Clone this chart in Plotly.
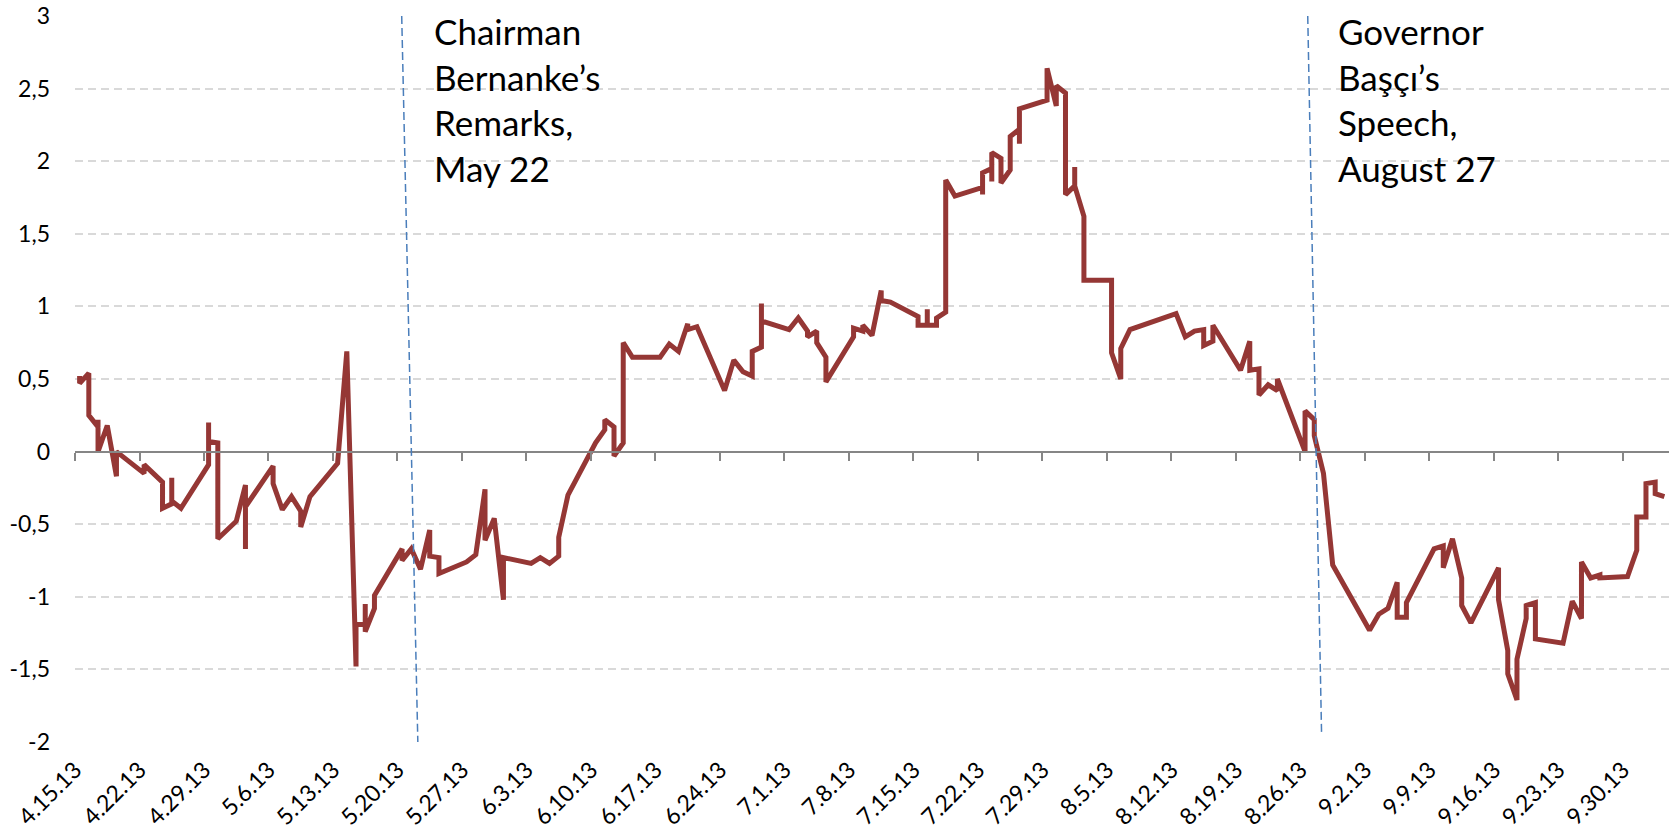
import plotly.graph_objects as go
import pandas as pd

# daily readings; several readings on one date draw as a vertical segment
dates = [
    "2013-04-15", "2013-04-16", "2013-04-17", "2013-04-18", "2013-04-19",
    "2013-04-22", "2013-04-23", "2013-04-24", "2013-04-25", "2013-04-26",
    "2013-04-29", "2013-04-30", "2013-05-01", "2013-05-02", "2013-05-03",
    "2013-05-06", "2013-05-07", "2013-05-08", "2013-05-09", "2013-05-10",
    "2013-05-13", "2013-05-14", "2013-05-15", "2013-05-16", "2013-05-17",
    "2013-05-20", "2013-05-21", "2013-05-22", "2013-05-23", "2013-05-24",
    "2013-05-27", "2013-05-28", "2013-05-29", "2013-05-30", "2013-05-31",
    "2013-06-03", "2013-06-04", "2013-06-05", "2013-06-06", "2013-06-07",
    "2013-06-10", "2013-06-11", "2013-06-12", "2013-06-13", "2013-06-14",
    "2013-06-17", "2013-06-18", "2013-06-19", "2013-06-20", "2013-06-21",
    "2013-06-24", "2013-06-25", "2013-06-26", "2013-06-27", "2013-06-28",
    "2013-07-01", "2013-07-02", "2013-07-03", "2013-07-04", "2013-07-05",
    "2013-07-08", "2013-07-09", "2013-07-10", "2013-07-11", "2013-07-12",
    "2013-07-15", "2013-07-16", "2013-07-17", "2013-07-18", "2013-07-19",
    "2013-07-22", "2013-07-23", "2013-07-24", "2013-07-25", "2013-07-26",
    "2013-07-29", "2013-07-30", "2013-07-31", "2013-08-01", "2013-08-02",
    "2013-08-05", "2013-08-06", "2013-08-07",
    "2013-08-12", "2013-08-13", "2013-08-14", "2013-08-15", "2013-08-16",
    "2013-08-19", "2013-08-20", "2013-08-21", "2013-08-22", "2013-08-23",
    "2013-08-26", "2013-08-27", "2013-08-28", "2013-08-29",
    "2013-09-02", "2013-09-03", "2013-09-04", "2013-09-05", "2013-09-06",
    "2013-09-09", "2013-09-10", "2013-09-11", "2013-09-12", "2013-09-13",
    "2013-09-16", "2013-09-17", "2013-09-18", "2013-09-19", "2013-09-20",
    "2013-09-23", "2013-09-24", "2013-09-25", "2013-09-26", "2013-09-27",
    "2013-09-30", "2013-10-01", "2013-10-02", "2013-10-03", "2013-10-04",
]
values = [
    [0.52, 0.47], [0.54, 0.25], [0.17, 0.22, 0.0], [0.18], [-0.17, 0.0],
    [-0.15, -0.09], [-0.15], [-0.21, -0.39], [-0.36, -0.18, -0.34], [-0.39],
    [-0.09, 0.20, 0.07], [0.06, -0.60], [-0.54], [-0.48], [-0.23, -0.67, -0.38],
    [-0.10, -0.22], [-0.40], [-0.31], [-0.41, -0.52], [-0.31],
    [-0.08], [0.69], [-1.48, -1.19], [-1.19, -1.05, -1.24], [-1.08, -0.99],
    [-0.67, -0.75], [-0.67], [-0.81], [-0.54, -0.72], [-0.73, -0.84],
    [-0.76], [-0.71], [-0.26, -0.61], [-0.46], [-1.02, -0.73],
    [-0.77], [-0.73], [-0.77], [-0.72, -0.59], [-0.30],
    [0.06], [0.15, 0.22], [0.17, -0.03], [0.06, 0.75], [0.65],
    [0.65], [0.74], [0.69], [0.88, 0.84], [0.86],
    [0.42], [0.63], [0.55], [0.52, 0.69], [0.72, 1.02, 0.90],
    [0.84], [0.92], [0.83, 0.79], [0.83, 0.75], [0.65, 0.48],
    [0.79, 0.85], [0.83, 0.87], [0.80], [1.11, 1.04], [1.03],
    [0.93, 0.87], [0.87, 0.98, 0.87], [0.87, 0.92], [0.96, 1.87], [1.76],
    [1.82, 1.77, 1.92], [1.95, 1.86, 2.06], [2.02, 1.85], [1.94, 2.17], [2.22, 2.12, 2.36],
    [2.42, 2.64], [2.38, 2.52], [2.47, 1.77], [1.83, 1.96, 1.83], [1.62, 1.18],
    [1.18, 0.68], [0.50, 0.71], [0.84],
    [0.95], [0.79], [0.83], [0.84, 0.73], [0.76, 0.87],
    [0.56], [0.76, 0.56], [0.57, 0.39], [0.46], [0.42, 0.50],
    [0.0, 0.28], [0.22, 0.11], [-0.15], [-0.78],
    [-1.23], [-1.12], [-1.08], [-0.90, -1.14], [-1.14, -1.04],
    [-0.67], [-0.65, -0.80], [-0.60], [-0.87, -1.06], [-1.18],
    [-0.80, -1.02], [-1.37, -1.53], [-1.71, -1.43], [-1.15, -1.06], [-1.04, -1.29],
    [-1.32], [-1.03], [-1.15, -0.76], [-0.87], [-0.85, -0.87],
    [-0.86], [-0.68, -0.45], [-0.45, -0.22], [-0.21, -0.29], [-0.31],
]

y_ticks = [-2, -1.5, -1, -0.5, 0, 0.5, 1, 1.5, 2, 2.5, 3]
y_tick_labels = ["-2", "-1,5", "-1", "-0,5", "0", "0,5", "1", "1,5", "2", "2,5", "3"]

event_labels = ["Chairman<br>Bernanke’s<br>Remarks,<br>May 22",
                "Governor<br>Başçı’s<br>Speech,<br>August 27"]
event_tops = ["2013-05-20 11:00", "2013-08-26 19:00"]
event_bottoms = ["2013-05-22 05:00", "2013-08-28 07:00"]
event_bottom_vals = [-2, -1.94]

x_range = ["2013-04-15", "2013-10-05"]

# flatten, placing each day's readings at midday
xs, ys = [], []
for d, vals in zip(dates, values):
    for v in vals:
        xs.append(pd.Timestamp(d) + pd.Timedelta(hours=12))
        ys.append(v)

FONT = "Lato"
WEEK = 7 * 24 * 3600 * 1000

fig = go.Figure()
fig.add_trace(go.Scatter(x=xs, y=ys, mode="lines",
                         line=dict(color="#953735", width=5),
                         hoverinfo="x+y", showlegend=False))
# dummy trace so the axis drawn at y=0 shows up
fig.add_trace(go.Scatter(x=[x_range[0]], y=[None], xaxis="x2",
                         showlegend=False, hoverinfo="skip"))

for top, bottom, bval, label in zip(event_tops, event_bottoms, event_bottom_vals, event_labels):
    fig.add_shape(type="line", xref="x", yref="y",
                  x0=top, y0=3, x1=bottom, y1=bval,
                  line=dict(color="#4A7EBB", width=1.5, dash="8px,4px"))
    fig.add_annotation(x=bottom, y=1, xref="x", yref="paper",
                       xanchor="left", yanchor="top", xshift=14, yshift=8,
                       text=label, showarrow=False, align="left",
                       font=dict(family=FONT, size=35, color="black"))

fig.update_layout(
    width=1669, height=835,
    margin=dict(l=75, r=0, t=16, b=93),
    plot_bgcolor="white", paper_bgcolor="white",
    font=dict(family=FONT, size=23, color="black"),
    xaxis=dict(type="date", range=x_range, tick0=x_range[0], dtick=WEEK,
               tickformat="%-m.%-d.%y", tickangle=-45, tickfont_size=23,
               showgrid=False, zeroline=False, showline=False, ticks="",
               ticklabelstandoff=9, automargin=False),
    xaxis2=dict(type="date", range=x_range, tick0=x_range[0], dtick=WEEK,
                overlaying="x", anchor="free", position=0.4,
                showline=True, linecolor="#868686", linewidth=2,
                ticks="outside", ticklen=8, tickwidth=2, tickcolor="#868686",
                showticklabels=False, showgrid=False, zeroline=False),
    yaxis=dict(range=[-2, 3], tickvals=y_ticks, ticktext=y_tick_labels,
               showgrid=True, gridcolor="#D9D9D9", gridwidth=1.5, griddash="8px,5px",
               zeroline=False, showline=False, ticks="", ticklabelstandoff=24,
               automargin=False),
)

# drop the browser's default page margin so the figure sits at the window corner
fig.write_html("out.html", config={"displayModeBar": False},
               post_script="document.body.style.margin='0';")
